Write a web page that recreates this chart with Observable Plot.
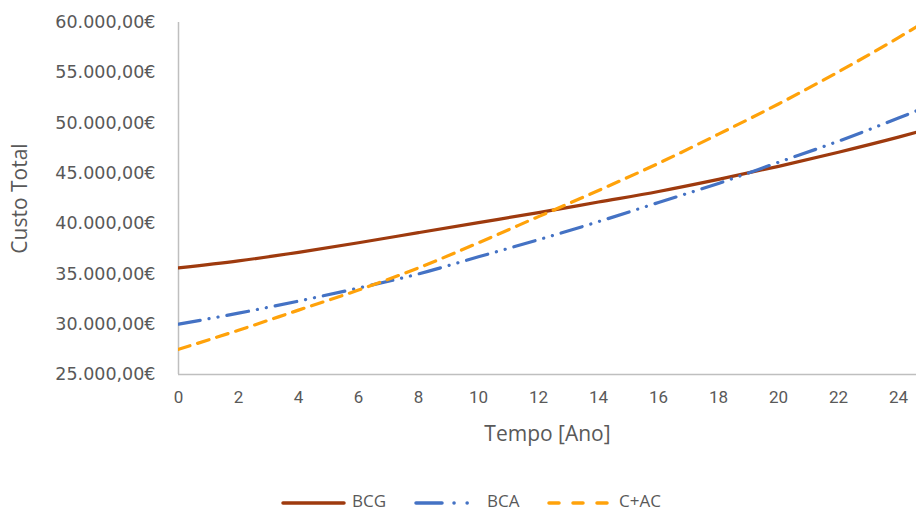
<!DOCTYPE html>
<html><head><meta charset="utf-8">
<script src="https://cdn.jsdelivr.net/npm/d3@7"></script>
<script src="https://cdn.jsdelivr.net/npm/@observablehq/plot@0.6"></script>
<style>
html,body{margin:0;background:#fff;font-family:"Open Sans","Noto Sans",sans-serif;overflow:hidden;}
#legend{position:absolute;left:0;top:491px;width:916px;height:20px;}
#legend span{position:absolute;top:0;font-size:17px;color:#595959;line-height:20px;font-family:"Open Sans",sans-serif;}
</style></head>
<body>
<div id="chart"></div>
<div id="legend"></div>
<script>
const years = [0,2,4,6,8,10,12,14,16,18,20,22,24,25];
const bcg  = [35600,36300,37150,38100,39100,40100,41100,42150,43200,44400,45700,47100,48600,49400];
const bca  = [30000,31100,32300,33600,35000,36700,38400,40200,42100,44000,46100,48200,50500,51700];
const cac  = [27500,29400,31400,33400,35600,38100,40700,43300,46000,48900,51900,55100,58500,60300];
const seriesNames = ["BCG","BCA","C+AC"];
const seriesValues = [bcg, bca, cac];
const colors = ["#9E3A0E","#4472C4","#FFA20A"];
const dashes = [null, "22 9 0.1 9 0.1 9", "12 8"];
const xTicks = [0,2,4,6,8,10,12,14,16,18,20,22,24];
const yTicks = [25000,30000,35000,40000,45000,50000,55000,60000];

const loc = d3.formatLocale({decimal:",", thousands:".", grouping:[3], currency:["","€"]});
const fmt = loc.format(",.2f");

const rows = seriesNames.map((n,i)=>years.map((y,j)=>({series:n, year:y, value:seriesValues[i][j]})));

const marks = [
  Plot.ruleX([0], {stroke:"#bfbfbf", strokeWidth:1.5}),
  Plot.ruleY([25000], {stroke:"#bfbfbf", strokeWidth:1.5}),
  Plot.axisY({ticks:yTicks, tickSize:0, tickPadding:23, tickFormat:d=>fmt(d)+"€", fontSize:17.5, fill:"#595959", label:null, fontFamily:"DejaVu Sans, sans-serif"}),
  Plot.axisX({ticks:xTicks, tickSize:0, tickPadding:16, fontSize:17, fill:"#595959", label:null, fontFamily:"Roboto, sans-serif"}),
  Plot.text(["Custo Total"], {frameAnchor:"left", textAnchor:"middle", dx:-158, rotate:-90, fontSize:21, fill:"#595959"}),
  Plot.text(["Tempo [Ano]"], {frameAnchor:"bottom", dy:66, fontSize:21, fill:"#595959", fontFamily:"Open Sans, sans-serif"})
];
rows.forEach((r,i)=>{
  marks.push(Plot.line(r, {x:"year", y:"value", stroke:colors[i], strokeWidth:3.2, strokeDasharray:dashes[i], strokeLinecap:"round", curve:"monotone-x", clip:true}));
});

const chart = Plot.plot({
  width:916, height:480,
  marginLeft:178, marginRight:0, marginTop:22, marginBottom:106,
  x:{domain:[0,24.6]},
  y:{domain:[25000,60000]},
  style:{fontFamily:"Open Sans, sans-serif", overflow:"visible"},
  marks
});
document.getElementById("chart").appendChild(chart);

const leg = document.getElementById("legend");
const pos = [[281,350],[413,485],[546,617]];
seriesNames.forEach((n,i)=>{
  const svg = d3.create("svg").attr("width", pos[i][1]-pos[i][0]).attr("height",20)
    .style("position","absolute").style("left",pos[i][0]+"px").style("top","0px");
  if(i===0) svg.append("line").attr("x1",2).attr("x2",63).attr("y1",12).attr("y2",12).attr("stroke",colors[0]).attr("stroke-width",3.5).attr("stroke-linecap","round");
  if(i===1) svg.append("line").attr("x1",3).attr("x2",62).attr("y1",12).attr("y2",12).attr("stroke",colors[1]).attr("stroke-width",3.5).attr("stroke-linecap","round").attr("stroke-dasharray","26 12 0.1 13 0.1 40");
  if(i===2) svg.append("line").attr("x1",3).attr("x2",62).attr("y1",12).attr("y2",12).attr("stroke",colors[2]).attr("stroke-width",3.5).attr("stroke-linecap","round").attr("stroke-dasharray","10 14");
  leg.appendChild(svg.node());
  const s = document.createElement("span");
  s.textContent = n; s.style.left = (pos[i][1]+2)+"px";
  leg.appendChild(s);
});
</script>
</body></html>
